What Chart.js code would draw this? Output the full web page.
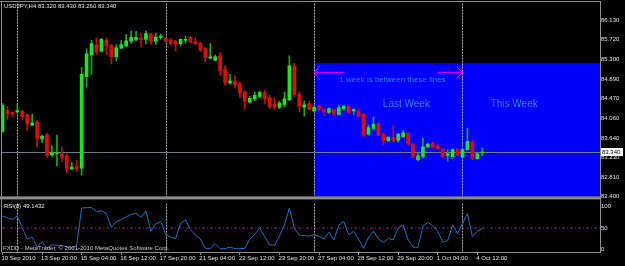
<!DOCTYPE html>
<html>
<head>
<meta charset="utf-8">
<script src="https://cdn.jsdelivr.net/npm/chart.js@4.4.0/dist/chart.umd.min.js"></script>
<style>
  html, body { margin: 0; padding: 0; background: #000; }
  #wrap { position: relative; width: 625px; height: 266px; overflow: hidden; background: #000; }
  #priceBox { position: absolute; left: 0; top: 0; width: 625px; height: 200px; }
  #rsiBox { position: absolute; left: 0; top: 200px; width: 625px; height: 66px; }
</style>
</head>
<body>
<div id="wrap">
  <div id="priceBox"><canvas id="priceChart"></canvas></div>
  <div id="rsiBox"><canvas id="rsiChart"></canvas></div>
</div>
<script>
// USDJPY H4 candles, 10 Sep 2010 12:00 .. 4 Oct 2010 12:00
const opens = [
  83.78, 84.22, 84.18, 84.19, 84.21, 84.13, 83.91, 83.98, 83.62, 83.70,
  83.28, 83.31, 83.30, 83.26, 82.98, 83.03, 83.00, 84.94, 85.40, 85.62,
  85.48, 85.71, 85.61, 85.36, 85.54, 85.59, 85.69, 85.73, 85.76, 85.73,
  85.84, 85.69, 85.77, 85.75, 85.71, 85.68, 85.64, 85.71, 85.77, 85.68,
  85.65, 85.54, 85.33, 85.29, 85.38, 85.10, 84.80, 84.84, 84.78, 84.61,
  84.40, 84.46, 84.52, 84.60, 84.49, 84.35, 84.29, 84.35, 84.45, 85.17,
  84.56, 84.29, 84.37, 84.21, 84.31, 84.24, 84.18, 84.24, 84.14, 84.26,
  84.31, 84.21, 84.21, 84.14, 83.72, 83.84, 83.94, 83.72, 83.58, 83.65,
  83.59, 83.66, 83.74, 83.51, 83.18, 83.24, 83.45, 83.53, 83.47, 83.41,
  83.27, 83.24, 83.39, 83.23, 83.39, 83.55, 83.20, 83.32
];
const highs = [
  84.37, 84.31, 84.19, 84.35, 84.22, 84.15, 84.14, 84.01, 83.70, 83.74,
  83.47, 83.70, 83.45, 83.30, 83.12, 83.16, 85.13, 85.53, 85.71, 85.75,
  85.75, 85.76, 85.62, 85.62, 85.71, 85.83, 85.91, 85.90, 85.86, 85.91,
  85.86, 85.86, 85.84, 85.76, 85.75, 85.71, 85.74, 85.80, 85.80, 85.76,
  85.66, 85.56, 85.64, 85.40, 85.45, 85.17, 84.99, 84.96, 84.82, 84.64,
  84.52, 84.61, 84.63, 84.66, 84.54, 84.49, 84.42, 84.61, 85.38, 85.22,
  84.61, 84.42, 84.42, 84.33, 84.33, 84.26, 84.28, 84.26, 84.33, 84.33,
  84.33, 84.26, 84.26, 84.15, 83.91, 84.08, 83.96, 83.74, 83.67, 83.91,
  83.74, 83.80, 83.75, 83.52, 83.34, 83.63, 83.53, 83.55, 83.51, 83.43,
  83.39, 83.41, 83.42, 83.41, 83.85, 83.59, 83.32, 83.43
];
const lows = [
  83.76, 84.03, 84.08, 84.16, 84.03, 83.80, 83.90, 83.45, 83.54, 83.22,
  83.24, 83.05, 83.14, 82.90, 82.97, 82.92, 82.85, 84.71, 84.99, 85.41,
  85.46, 85.41, 85.21, 85.27, 85.53, 85.57, 85.65, 85.69, 85.57, 85.63,
  85.62, 85.62, 85.73, 85.68, 85.62, 85.48, 85.59, 85.65, 85.65, 85.62,
  85.47, 85.25, 85.32, 85.27, 84.97, 84.75, 84.78, 84.70, 84.49, 84.24,
  84.38, 84.43, 84.49, 84.36, 84.26, 84.24, 84.26, 84.29, 84.43, 84.52,
  84.19, 84.10, 84.23, 84.19, 84.22, 84.12, 84.16, 84.12, 84.12, 84.22,
  84.15, 84.14, 84.08, 83.66, 83.70, 83.80, 83.69, 83.49, 83.56, 83.55,
  83.55, 83.65, 83.49, 83.22, 83.15, 83.21, 83.44, 83.43, 83.40, 83.23,
  83.14, 83.20, 83.26, 83.22, 83.38, 83.18, 83.19, 83.26
];
const closes = [
  84.33, 84.16, 84.15, 84.22, 84.09, 83.93, 83.96, 83.63, 83.68, 83.27,
  83.33, 83.32, 83.23, 82.98, 83.02, 82.99, 84.99, 85.42, 85.64, 85.48,
  85.73, 85.59, 85.36, 85.55, 85.62, 85.70, 85.77, 85.77, 85.72, 85.85,
  85.69, 85.77, 85.80, 85.69, 85.64, 85.63, 85.73, 85.73, 85.67, 85.63,
  85.50, 85.34, 85.36, 85.36, 85.06, 84.81, 84.85, 84.77, 84.59, 84.42,
  84.48, 84.54, 84.60, 84.47, 84.31, 84.29, 84.38, 84.47, 85.17, 84.56,
  84.31, 84.34, 84.25, 84.29, 84.25, 84.19, 84.26, 84.14, 84.28, 84.31,
  84.18, 84.24, 84.10, 83.70, 83.86, 83.93, 83.70, 83.58, 83.65, 83.58,
  83.72, 83.75, 83.51, 83.24, 83.26, 83.45, 83.51, 83.45, 83.41, 83.24,
  83.30, 83.39, 83.28, 83.39, 83.57, 83.21, 83.30, 83.34
];
// RSI(8) per bar
const rsiValues = [
  78, 74, 70, 78, 50, 24, 28, 5, 18, 2,
  10, 9, 9, 5, 2, 9, 97, 98, 98, 88,
  91, 84, 52, 65, 70, 76, 82, 85, 75, 90,
  42, 60, 65, 35, 28, 25, 61, 69, 46, 33,
  24, 2, 2, 13, 1, 1, 5, 1, 1, 2,
  24, 35, 50, 30, 10, 9, 31, 57, 97, 50,
  33, 32, 31, 34, 30, 24, 40, 22, 57, 65,
  34, 42, 24, 2, 28, 42, 24, 16, 25, 22,
  50, 57, 22, 5, 4, 54, 63, 55, 42, 16,
  20, 57, 37, 60, 84, 30, 42, 49.14
];

const timeTickIdx = [0, 8, 16, 24, 32, 40, 48, 56, 64, 72, 80, 88, 96];
const timeTickText = ['10 Sep 2010', '13 Sep 20:00', '15 Sep 04:00', '16 Sep 12:00', '17 Sep 20:00',
  '21 Sep 04:00', '22 Sep 12:00', '23 Sep 20:00', '27 Sep 04:00', '28 Sep 12:00',
  '29 Sep 20:00', '1 Oct 04:00', '4 Oct 12:00'];
const priceTicks = [82.400, 82.810, 83.230, 83.640, 84.060, 84.470, 84.890, 85.300, 85.720, 86.130];
const rsiTicks = [0, 50, 100];
const weekStarts = [3, 33, 63, 93];
const lastPrice = 83.340;
const titleText = 'USDJPY,H4 83.320 83.430 83.260 83.340';
const rsiTitle = 'RSI(8) 49.1432';
const copyText = 'FXDD - MetaTrader, \u00a9 2001-2010 MetaQuotes Software Corp.';

// chart objects drawn on the price window (bar index, price)
const boxStart = 63, boxHigh = 85.23, boxLow = 82.20;
const arrowLeftShaft = [{ x: 63, y: 85.03 }, { x: 69.1, y: 85.03 }];
const arrowLeftHead = [{ x: 64.2, y: 85.17 }, { x: 63, y: 85.03 }, { x: 64.2, y: 84.87 }];
const arrowRightShaft = [{ x: 88, y: 85.03 }, { x: 93, y: 85.03 }];
const arrowRightHead = [{ x: 91.8, y: 85.15 }, { x: 93, y: 85.03 }, { x: 91.8, y: 84.90 }];
const notes = [
  { text: '1 week is between these lines', x: 68.1, y: 84.87, size: 8 },
  { text: 'Last Week', x: 76.9, y: 84.35, size: 10 },
  { text: 'This Week', x: 98.7, y: 84.35, size: 10 }
];

const xMin = -0.1, xMax = 120.8;
const bullColor = '#1ee61e';
const bearColor = '#e00c0c';
const bullWick = '#14ac14';
const bearWick = '#c80a0a';
const frameColor = '#8e8e8e';
const fontFamily = '"Liberation Sans", Arial, sans-serif';

Chart.defaults.font.family = fontFamily;
Chart.defaults.font.size = 6;
Chart.defaults.color = '#e4e4e4';

const isBull = i => closes[i] >= opens[i];
const wickData = lows.map((l, i) => ({ x: i, y: [l, highs[i]] }));
const bodyData = opens.map((o, i) => ({ x: i, y: [o, closes[i]] }));
const rsiData = rsiValues.map((v, i) => ({ x: i, y: v }));

function drawSeparators(chart) {
    const { ctx, chartArea: a, scales: { x } } = chart;
    ctx.save();
    ctx.strokeStyle = '#b4b4b4';
    ctx.lineWidth = 1;
    ctx.setLineDash([2, 1]);
    weekStarts.forEach(w => {
        const px = Math.round(x.getPixelForValue(w)) + 0.5;
        ctx.beginPath();
        ctx.moveTo(px, a.top);
        ctx.lineTo(px, a.bottom);
        ctx.stroke();
    });
    ctx.restore();
}

const priceDecor = {
    id: 'priceDecor',
    beforeDraw(chart) {
        const { ctx, width, height } = chart;
        ctx.save();
        ctx.fillStyle = '#000';
        ctx.fillRect(0, 0, width, height);
        ctx.restore();
    },
    beforeDatasetsDraw(chart) {
        const { ctx, chartArea: a, scales: { x, y } } = chart;
        ctx.save();
        ctx.beginPath();
        ctx.rect(a.left, a.top, a.right - a.left, a.bottom - a.top);
        ctx.clip();
        // blue rectangle object
        const bx = x.getPixelForValue(boxStart);
        const by = Math.round(y.getPixelForValue(boxHigh));
        const bb = y.getPixelForValue(boxLow);
        ctx.fillStyle = '#0000ff';
        ctx.fillRect(bx, by, a.right - bx, bb - by);
        ctx.restore();
        drawSeparators(chart);
        // bid line
        const ly = Math.round(y.getPixelForValue(lastPrice)) + 0.5;
        ctx.save();
        ctx.strokeStyle = '#6f7d8c';
        ctx.lineWidth = 1;
        ctx.beginPath();
        ctx.moveTo(a.left, ly);
        ctx.lineTo(a.right, ly);
        ctx.stroke();
        ctx.restore();
    },
    afterDatasetsDraw(chart) {
        const { ctx, scales: { x, y } } = chart;
        ctx.save();
        ctx.fillStyle = '#2d86cf';
        ctx.textBaseline = 'middle';
        notes.forEach(n => {
            ctx.font = n.size + 'px ' + fontFamily;
            ctx.fillText(n.text, x.getPixelForValue(n.x), y.getPixelForValue(n.y));
        });
        ctx.restore();
    },
    afterDraw(chart) {
        const { ctx, chartArea: a, scales: { y } } = chart;
        ctx.save();
        // window frame
        ctx.strokeStyle = frameColor;
        ctx.lineWidth = 1;
        ctx.beginPath();
        ctx.moveTo(0, 1.5); ctx.lineTo(a.right + 0.5, 1.5);
        ctx.moveTo(1.5, 1); ctx.lineTo(1.5, 200);
        ctx.moveTo(a.right + 0.5, 1); ctx.lineTo(a.right + 0.5, 200);
        ctx.stroke();
        ctx.fillStyle = frameColor;
        ctx.fillRect(0, a.bottom, a.right + 1, 3);
        // title
        ctx.fillStyle = '#e8e8e8';
        ctx.font = '6px ' + fontFamily;
        ctx.textBaseline = 'middle';
        ctx.fillText(titleText, 4, 6.5);
        // last price label
        const ly = Math.round(y.getPixelForValue(lastPrice));
        ctx.fillStyle = '#ffffff';
        ctx.fillRect(a.right + 1, ly - 4, 22, 8);
        ctx.fillStyle = '#000000';
        ctx.fillText(lastPrice.toFixed(3), a.right + 2, ly + 0.5);
        ctx.restore();
    }
};

const rsiDecor = {
    id: 'rsiDecor',
    beforeDraw(chart) {
        const { ctx, width, height } = chart;
        ctx.save();
        ctx.fillStyle = '#000';
        ctx.fillRect(0, 0, width, height);
        ctx.restore();
    },
    beforeDatasetsDraw(chart) {
        drawSeparators(chart);
    },
    afterDraw(chart) {
        const { ctx, chartArea: a } = chart;
        ctx.save();
        ctx.strokeStyle = frameColor;
        ctx.lineWidth = 1;
        ctx.beginPath();
        ctx.moveTo(1.5, 0); ctx.lineTo(1.5, a.bottom);
        ctx.moveTo(a.right + 0.5, 0); ctx.lineTo(a.right + 0.5, a.bottom);
        ctx.stroke();
        ctx.fillStyle = '#e8e8e8';
        ctx.font = '6px ' + fontFamily;
        ctx.textBaseline = 'middle';
        ctx.fillText(rsiTitle, 4, 6.5);
        ctx.fillStyle = '#c8c8c8';
        ctx.fillText(copyText, 3, 48.5);
        ctx.restore();
    }
};

// Price window
new Chart(document.getElementById('priceChart'), {
    type: 'bar',
    data: {
        datasets: [
            {
                data: wickData,
                backgroundColor: c => (isBull(c.dataIndex) ? bullWick : bearWick),
                barThickness: 1,
                grouped: false,
                order: 3
            },
            {
                data: bodyData,
                backgroundColor: c => (isBull(c.dataIndex) ? bullColor : bearColor),
                barThickness: 3,
                minBarLength: 1,
                grouped: false,
                order: 2
            },
            { type: 'line', data: arrowLeftShaft, borderColor: '#ff00ff', borderWidth: 1, pointRadius: 0, order: 1 },
            { type: 'line', data: arrowLeftHead, borderColor: '#ff00ff', borderWidth: 1, pointRadius: 0, order: 1 },
            { type: 'line', data: arrowRightShaft, borderColor: '#ff00ff', borderWidth: 1, pointRadius: 0, order: 1 },
            { type: 'line', data: arrowRightHead, borderColor: '#ff00ff', borderWidth: 1, pointRadius: 0, order: 1 }
        ]
    },
    options: {
        responsive: true,
        maintainAspectRatio: false,
        animation: false,
        events: [],
        layout: { padding: { left: 2, top: 2, right: 0, bottom: 3 } },
        plugins: { legend: { display: false }, tooltip: { enabled: false } },
        scales: {
            x: {
                type: 'linear',
                min: xMin,
                max: xMax,
                offset: false,
                display: false
            },
            y: {
                position: 'right',
                min: 82.400,
                max: 86.487,
                beginAtZero: false,
                afterFit: s => { s.width = 25; },
                afterBuildTicks: s => { s.ticks = priceTicks.map(v => ({ value: v })); },
                grid: { display: false, drawTicks: true, tickLength: 1 },
                border: { display: false },
                ticks: {
                    padding: 0,
                    color: '#e4e4e4',
                    font: { size: 6 },
                    callback: v => Number(v).toFixed(3)
                }
            }
        }
    },
    plugins: [priceDecor]
});

// RSI window
new Chart(document.getElementById('rsiChart'), {
    type: 'line',
    data: {
        datasets: [
            {
                data: [{ x: xMin, y: 50 }, { x: xMax, y: 50 }],
                borderColor: '#a012a0',
                borderWidth: 1,
                borderDash: [3, 2, 1, 2],
                pointRadius: 0,
                order: 2
            },
            {
                data: rsiData,
                borderColor: '#1f6fc6',
                borderWidth: 1,
                pointRadius: 0,
                tension: 0,
                order: 1
            }
        ]
    },
    options: {
        responsive: true,
        maintainAspectRatio: false,
        animation: false,
        events: [],
        layout: { padding: { left: 2, top: 1, right: 0, bottom: 0 } },
        plugins: { legend: { display: false }, tooltip: { enabled: false } },
        scales: {
            x: {
                type: 'linear',
                min: xMin,
                max: xMax,
                offset: false,
                afterFit: s => { s.height = 14; },
                afterBuildTicks: s => { s.ticks = timeTickIdx.map(v => ({ value: v })); },
                grid: { display: true, drawOnChartArea: false, drawTicks: true, tickLength: 3, color: frameColor },
                border: { display: true, color: frameColor },
                ticks: {
                    align: 'start',
                    autoSkip: false,
                    maxRotation: 0,
                    padding: 0,
                    labelOffset: -1,
                    color: '#e4e4e4',
                    font: { size: 6 },
                    callback: v => timeTickText[timeTickIdx.indexOf(v)]
                }
            },
            y: {
                position: 'right',
                min: -6.7,
                max: 107.4,
                afterFit: s => { s.width = 25; },
                afterBuildTicks: s => { s.ticks = rsiTicks.map(v => ({ value: v })); },
                grid: { display: false, drawTicks: true, tickLength: 1 },
                border: { display: false },
                ticks: { padding: 0, color: '#e4e4e4', font: { size: 6 } }
            }
        }
    },
    plugins: [rsiDecor]
});
</script>
</body>
</html>
